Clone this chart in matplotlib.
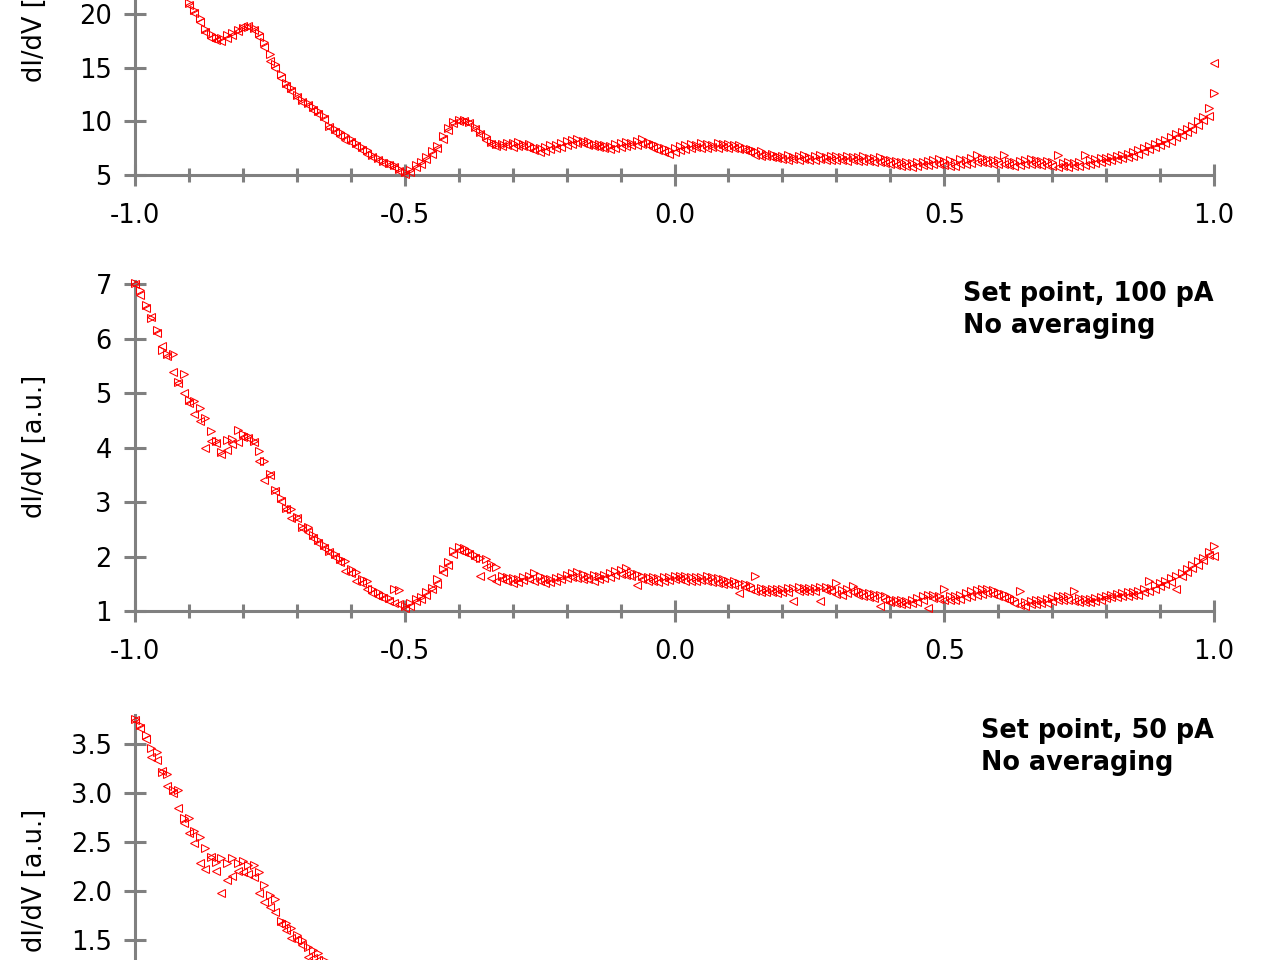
import numpy as np
import matplotlib
matplotlib.use("Agg")
import matplotlib.pyplot as plt
from matplotlib.ticker import MultipleLocator, FormatStrFormatter

plt.rcParams['axes.unicode_minus'] = False
plt.rcParams['font.family'] = ['DejaVu Sans']

# Bias grid (V), 0.01 V steps
bias = np.linspace(-1.0, 1.0, 201)

# ---- Panel 1 (top) ----
p1_fwd = [
    30.5, 29.8, 28.9, 28.0, 27.0, 25.9, 25.0, 24.0, 23.0, 22.0,
    21.0, 20.4, 19.6, 18.6, 18.1, 17.9, 17.8, 18.0, 18.2, 18.5,
    18.7, 18.8, 18.7, 18.2, 17.4, 16.3, 15.3, 14.4, 13.6, 13.1,
    12.5, 12.0, 11.7, 11.3, 11.0, 10.5, 9.6, 9.3, 9.0, 8.7,
    8.4, 8.0, 7.6, 7.3, 6.9, 6.6, 6.3, 6.1, 5.9, 5.6,
    5.3, 5.5, 5.9, 6.2, 6.7, 7.2, 7.7, 8.6, 9.4, 9.9,
    10.1, 10.1, 9.9, 9.5, 9.0, 8.6, 8.1, 7.9, 7.9, 8.0,
    8.0, 8.1, 7.9, 7.9, 7.6, 7.5, 7.6, 7.8, 7.8, 8.0,
    8.2, 8.3, 8.4, 8.2, 8.2, 7.9, 7.9, 7.8, 7.7, 7.9,
    8.0, 8.1, 8.0, 8.2, 8.4, 8.1, 7.9, 7.7, 7.5, 7.3,
    7.5, 7.7, 7.8, 7.9, 7.8, 8.0, 7.9, 7.8, 8.0, 7.9,
    7.9, 7.8, 7.8, 7.5, 7.4, 7.2, 7.2, 7.0, 7.0, 6.8,
    6.8, 6.9, 6.7, 6.8, 6.9, 6.7, 6.8, 6.9, 6.7, 6.8,
    6.8, 6.7, 6.8, 6.7, 6.7, 6.8, 6.6, 6.6, 6.7, 6.5,
    6.4, 6.3, 6.2, 6.2, 6.1, 6.2, 6.2, 6.3, 6.4, 6.5,
    6.3, 6.4, 6.2, 6.5, 6.4, 6.6, 6.9, 6.6, 6.5, 6.4,
    6.4, 6.9, 6.3, 6.2, 6.3, 6.4, 6.5, 6.4, 6.3, 6.3,
    6.2, 6.9, 6.1, 6.2, 6.1, 6.2, 6.9, 6.4, 6.5, 6.6,
    6.6, 6.7, 6.8, 6.9, 7.0, 7.1, 7.3, 7.5, 7.7, 7.9,
    8.1, 8.3, 8.5, 8.8, 9.0, 9.3, 9.6, 10.0, 10.4, 11.2,
    12.6,
]
p1_bwd = [
    30.2, 29.5, 28.6, 27.7, 26.8, 25.7, 24.7, 23.8, 22.8, 21.8,
    20.8, 20.1, 19.3, 18.3, 17.8, 17.6, 17.5, 17.8, 18.0, 18.4,
    18.9, 18.9, 18.5, 17.9, 16.9, 15.6, 15.0, 14.0, 13.3, 12.8,
    12.3, 11.8, 11.5, 11.1, 10.7, 10.2, 9.5, 9.0, 8.6, 8.3,
    8.1, 7.7, 7.3, 7.0, 6.7, 6.4, 6.1, 5.9, 5.7, 5.4,
    5.1, 5.3, 5.7, 6.0, 6.5, 7.0, 7.5, 8.4, 9.2, 9.8,
    10.0, 10.0, 9.8, 9.3, 8.8, 8.3, 7.9, 7.7, 7.7, 7.8,
    7.6, 7.7, 7.7, 7.5, 7.3, 7.1, 7.2, 7.4, 7.5, 7.6,
    7.8, 7.9, 8.0, 8.0, 7.8, 7.7, 7.6, 7.5, 7.4, 7.5,
    7.6, 7.7, 7.8, 7.8, 7.9, 7.8, 7.5, 7.3, 7.1, 7.0,
    7.1, 7.3, 7.4, 7.5, 7.6, 7.5, 7.5, 7.6, 7.5, 7.6,
    7.5, 7.5, 7.4, 7.3, 7.1, 6.9, 6.8, 6.8, 6.7, 6.6,
    6.5, 6.4, 6.5, 6.4, 6.5, 6.4, 6.4, 6.5, 6.4, 6.4,
    6.4, 6.4, 6.3, 6.4, 6.3, 6.3, 6.3, 6.2, 6.2, 6.1,
    6.0, 5.9, 5.8, 5.8, 5.7, 5.8, 5.9, 5.9, 6.0, 6.0,
    5.9, 5.8, 5.8, 6.0, 6.0, 6.1, 6.2, 6.2, 6.1, 6.0,
    6.0, 6.0, 5.9, 5.8, 5.9, 6.0, 6.0, 6.0, 5.9, 5.9,
    5.8, 5.7, 5.8, 5.7, 5.8, 5.8, 5.9, 6.0, 6.1, 6.2,
    6.3, 6.4, 6.5, 6.6, 6.7, 6.8, 7.0, 7.2, 7.4, 7.6,
    7.8, 8.0, 8.2, 8.5, 8.7, 9.0, 9.3, 9.7, 10.1, 10.5,
    15.4,
]

# ---- Panel 2 (middle): Set point 100 pA ----
p2_fwd = [
    7.02, 6.90, 6.62, 6.38, 6.16, 5.80, 5.72, 5.72, 5.20, 5.36,
    4.88, 4.85, 4.72, 4.55, 4.30, 4.12, 3.92, 4.14, 4.16, 4.32,
    4.25, 4.22, 4.12, 3.94, 3.75, 3.52, 3.22, 3.08, 2.90, 2.87,
    2.72, 2.55, 2.55, 2.40, 2.30, 2.22, 2.10, 2.05, 1.95, 1.92,
    1.78, 1.72, 1.58, 1.55, 1.40, 1.35, 1.30, 1.24, 1.40, 1.38,
    1.10, 1.15, 1.22, 1.26, 1.35, 1.42, 1.58, 1.78, 1.90, 2.10,
    2.18, 2.16, 2.10, 2.02, 1.98, 1.95, 1.86, 1.80, 1.64, 1.62,
    1.60, 1.58, 1.62, 1.64, 1.70, 1.65, 1.60, 1.58, 1.60, 1.62,
    1.66, 1.70, 1.72, 1.68, 1.64, 1.66, 1.64, 1.66, 1.70, 1.73,
    1.76, 1.79, 1.72, 1.68, 1.64, 1.62, 1.62, 1.60, 1.62, 1.62,
    1.64, 1.65, 1.64, 1.62, 1.63, 1.62, 1.64, 1.62, 1.60, 1.58,
    1.56, 1.55, 1.52, 1.50, 1.48, 1.64, 1.42, 1.40, 1.41, 1.40,
    1.40, 1.42, 1.42, 1.44, 1.42, 1.43, 1.42, 1.44, 1.44, 1.42,
    1.51, 1.38, 1.40, 1.46, 1.38, 1.35, 1.33, 1.31, 1.29, 1.27,
    1.22, 1.20, 1.20, 1.18, 1.21, 1.24, 1.28, 1.30, 1.30, 1.28,
    1.40, 1.27, 1.28, 1.30, 1.33, 1.36, 1.38, 1.40, 1.40, 1.38,
    1.35, 1.31, 1.27, 1.22, 1.37, 1.17, 1.19, 1.20, 1.21, 1.22,
    1.24, 1.27, 1.27, 1.27, 1.37, 1.24, 1.22, 1.22, 1.24, 1.26,
    1.28, 1.30, 1.31, 1.33, 1.34, 1.35, 1.37, 1.40, 1.55, 1.47,
    1.51, 1.56, 1.60, 1.65, 1.70, 1.78, 1.85, 1.91, 1.98, 2.08,
    2.20,
]
p2_bwd = [
    7.00, 6.80, 6.56, 6.40, 6.10, 5.86, 5.68, 5.38, 5.18, 5.00,
    4.82, 4.62, 4.48, 3.99, 4.12, 4.08, 3.88, 3.95, 4.06, 4.10,
    4.20, 4.18, 4.10, 3.75, 3.40, 3.50, 3.20, 3.02, 2.88, 2.71,
    2.70, 2.53, 2.45, 2.34, 2.25, 2.15, 2.08, 2.00, 1.90, 1.73,
    1.70, 1.55, 1.52, 1.40, 1.33, 1.28, 1.24, 1.18, 1.15, 1.12,
    1.06, 1.10, 1.18, 1.22, 1.30, 1.40, 1.50, 1.72, 1.85, 2.05,
    2.12, 2.08, 2.05, 1.98, 1.64, 1.80, 1.60, 1.55, 1.58, 1.55,
    1.52, 1.54, 1.57, 1.58, 1.56, 1.55, 1.52, 1.54, 1.56, 1.58,
    1.60, 1.62, 1.60, 1.58, 1.58, 1.56, 1.58, 1.60, 1.62, 1.66,
    1.68, 1.66, 1.64, 1.48, 1.58, 1.56, 1.55, 1.54, 1.56, 1.57,
    1.58, 1.58, 1.56, 1.55, 1.56, 1.57, 1.55, 1.54, 1.52, 1.50,
    1.50, 1.48, 1.33, 1.44, 1.40, 1.37, 1.35, 1.34, 1.34, 1.33,
    1.35, 1.34, 1.18, 1.37, 1.36, 1.36, 1.36, 1.18, 1.38, 1.36,
    1.32, 1.30, 1.33, 1.34, 1.30, 1.28, 1.25, 1.24, 1.09, 1.20,
    1.16, 1.14, 1.13, 1.12, 1.14, 1.17, 1.20, 1.06, 1.23, 1.22,
    1.20, 1.20, 1.21, 1.22, 1.26, 1.28, 1.30, 1.32, 1.33, 1.31,
    1.28, 1.24, 1.20, 1.15, 1.11, 1.10, 1.12, 1.12, 1.14, 1.15,
    1.18, 1.20, 1.20, 1.20, 1.19, 1.17, 1.16, 1.16, 1.18, 1.20,
    1.23, 1.25, 1.26, 1.27, 1.28, 1.29, 1.30, 1.34, 1.37, 1.40,
    1.45, 1.49, 1.54, 1.40, 1.65, 1.72, 1.79, 1.85, 1.93, 2.02,
    2.01,
]

# ---- Panel 3 (bottom): Set point 50 pA (visible part, -1.0 .. -0.6 V) ----
p3_fwd = [
    3.76, 3.70, 3.60, 3.46, 3.42, 3.22, 3.20, 3.03, 3.03, 2.75,
    2.75, 2.62, 2.55, 2.44, 2.35, 2.30, 2.34, 2.29, 2.34, 2.29,
    2.31, 2.27, 2.27, 2.20, 2.06, 1.96, 1.92, 1.70, 1.68, 1.62,
    1.55, 1.50, 1.43, 1.40, 1.37, 1.30, 1.26, 1.22, 1.18, 1.14,
    1.10,
]
p3_bwd = [
    3.75, 3.67, 3.56, 3.37, 3.34, 3.23, 3.08, 3.00, 2.85, 2.70,
    2.60, 2.49, 2.29, 2.23, 2.35, 2.21, 1.98, 2.11, 2.16, 2.21,
    2.20, 2.18, 2.15, 1.98, 1.89, 1.84, 1.79, 1.67, 1.60, 1.52,
    1.50, 1.45, 1.33, 1.32, 1.30, 1.25, 1.20, 1.16, 1.12, 1.08,
    1.05,
]
bias3 = bias[:len(p3_fwd)]

ylabel = "dI/dV [a.u.]"
notes = [None, "Set point, 100 pA\nNo averaging", "Set point, 50 pA\nNo averaging"]

GRAY = "#808080"
fig = plt.figure(figsize=(12.8, 9.6), dpi=100)

W, H = 1280.0, 960.0
left, right = 135, 1214
panel_px = [(-155, 175), (281, 611), (715, 1045)]   # (top, bottom) in pixels
ylims = [(5, 35.75), (1, 7.06), (0.43, 3.80)]
ymajor = [5, 1, 0.5]
yfmt = ["%d", "%d", "%.1f"]
note_y = [1.0, 1.0, 0.99]
series = [(bias, p1_fwd, p1_bwd), (bias, p2_fwd, p2_bwd), (bias3, p3_fwd, p3_bwd)]

for i in range(3):
    top, bot = panel_px[i]
    ax = fig.add_axes([left / W, (H - bot) / H, (right - left) / W, (bot - top) / H])
    x, f, b = series[i]
    ax.plot(x, f, linestyle='none', marker='>', ms=5.4, mfc='none', mec='red',
            mew=0.75, clip_on=False, zorder=3)
    ax.plot(x, b, linestyle='none', marker='<', ms=5.4, mfc='none', mec='red',
            mew=0.75, clip_on=False, zorder=3)
    ax.set_xlim(-1.0, 1.0)
    ax.set_ylim(*ylims[i])
    for s in ['top', 'right']:
        ax.spines[s].set_visible(False)
    for s in ['left', 'bottom']:
        ax.spines[s].set_color(GRAY)
        ax.spines[s].set_linewidth(2.2)
    ax.xaxis.set_major_locator(MultipleLocator(0.5))
    ax.xaxis.set_minor_locator(MultipleLocator(0.1))
    ax.xaxis.set_major_formatter(FormatStrFormatter("%.1f"))
    ax.yaxis.set_major_locator(MultipleLocator(ymajor[i]))
    ax.yaxis.set_major_formatter(FormatStrFormatter(yfmt[i]))
    ax.tick_params(which='major', direction='inout', length=16.5, width=2.2,
                   color=GRAY, labelsize=18.5, labelcolor='black')
    ax.tick_params(which='minor', direction='inout', length=9.4, width=2.2, color=GRAY)
    ax.tick_params(axis='x', which='major', pad=12.2)
    ax.tick_params(axis='y', which='major', pad=8.4)
    ax.set_ylabel(ylabel, fontsize=18.5)
    ax.yaxis.set_label_coords(-0.081, 0.5)
    if notes[i]:
        ax.text(1.0, note_y[i], notes[i], transform=ax.transAxes, ha='right', va='top',
                fontsize=18.4, fontweight='bold', linespacing=1.28, multialignment='left')

fig.savefig("out.png", dpi=100)
